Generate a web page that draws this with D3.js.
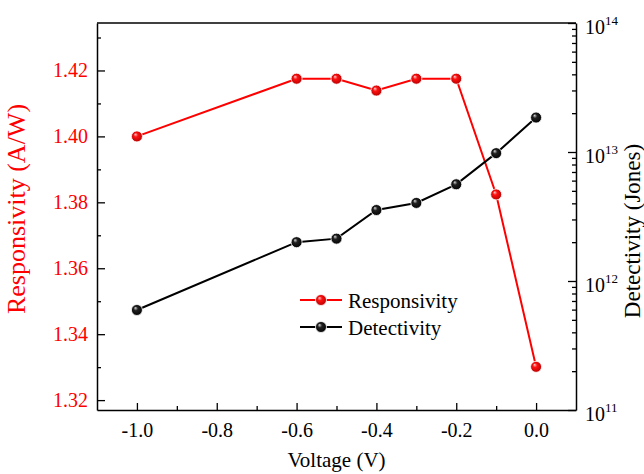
<!doctype html>
<html>
<head>
<meta charset="utf-8">
<title>Responsivity and Detectivity</title>
<script src="https://cdnjs.cloudflare.com/ajax/libs/d3/7.8.5/d3.min.js"></script>
<style>
  body { margin: 0; background: #fff; }
  svg text { font-family: "Liberation Serif", "Times New Roman", serif; }
</style>
</head>
<body>
<div id="chart"></div>
<script>
// data
const voltage = [-1.0, -0.6, -0.5, -0.4, -0.3, -0.2, -0.1, 0.0];
const responsivity = [1.400, 1.4175, 1.4175, 1.4139, 1.4175, 1.4175, 1.3824, 1.3301];
const detectivity = [5.96e11, 2.0e12, 2.13e12, 3.55e12, 4.03e12, 5.62e12, 9.8e12, 1.85e13];
const seriesNames = ["Responsivity", "Detectivity"];

// ticks
const xTicks = [-1.0, -0.8, -0.6, -0.4, -0.2, 0.0];
const xMinorTicks = [-0.9, -0.7, -0.5, -0.3, -0.1];
const leftTicks = [1.32, 1.34, 1.36, 1.38, 1.40, 1.42];
const leftMinorTicks = [1.33, 1.35, 1.37, 1.39, 1.41, 1.43];
const rightExponents = [11, 12, 13, 14];

const W = 644, H = 474;
const plotL = 97, plotR = 576, plotT = 23, plotB = 410;

const svg = d3.select('#chart')
  .append('svg')
  .attr('width', W)
  .attr('height', H);

const x = d3.scaleLinear().domain([-1.1, 0.1]).range([plotL, plotR]);
const yL = d3.scaleLinear().domain([1.317, 1.4344]).range([plotB, plotT]);
const yR = d3.scaleLog().domain([1e11, 1e14]).range([plotB, plotT]);

// sphere-looking markers
const defs = svg.append('defs');
function sphere(id, hi, mid, dark) {
  const g = defs.append('radialGradient')
    .attr('id', id)
    .attr('cx', '50%').attr('cy', '50%').attr('r', '55%')
    .attr('fx', '35%').attr('fy', '30%');
  g.append('stop').attr('offset', '0%').attr('stop-color', hi);
  g.append('stop').attr('offset', '35%').attr('stop-color', mid);
  g.append('stop').attr('offset', '100%').attr('stop-color', dark);
}
sphere('ballRed', '#ffd0d0', '#ff1010', '#b00000');
sphere('ballBlack', '#d8d8d8', '#202020', '#000');

// bottom axis
svg.append('g')
  .attr('transform', `translate(0,${plotB})`)
  .call(d3.axisBottom(x).tickValues(xTicks).tickSizeInner(-7).tickSizeOuter(0)
    .tickPadding(13).tickFormat(d => d.toFixed(1)));
svg.append('g')
  .attr('transform', `translate(0,${plotB})`)
  .call(d3.axisBottom(x).tickValues(xMinorTicks).tickSize(-4).tickFormat(''))
  .call(g => g.select('.domain').remove());

// left axis
const yAxisL = svg.append('g')
  .attr('transform', `translate(${plotL},0)`)
  .call(d3.axisLeft(yL).tickValues(leftTicks).tickSizeInner(-8).tickSizeOuter(0)
    .tickPadding(9).tickFormat(d3.format('.2f')));
yAxisL.selectAll('.tick text').attr('fill', '#ff0000');
svg.append('g')
  .attr('transform', `translate(${plotL},0)`)
  .call(d3.axisLeft(yL).tickValues(leftMinorTicks).tickSize(-4).tickFormat(''))
  .call(g => g.select('.domain').remove());

// right log axis
const yAxisR = svg.append('g')
  .attr('transform', `translate(${plotR},0)`)
  .call(d3.axisRight(yR).tickValues(rightExponents.map(e => Math.pow(10, e)))
    .tickSizeInner(-8).tickSizeOuter(0).tickPadding(9).tickFormat(''));
yAxisR.selectAll('.tick text')
  .attr('dy', '0.5em')
  .each(function(d) {
    const t = d3.select(this);
    t.append('tspan').text('10');
    t.append('tspan').attr('dy', -9).attr('font-size', 13).text(Math.round(Math.log10(d)));
  });
const minorR = yR.ticks().filter(v => Math.abs(Math.log10(v) - Math.round(Math.log10(v))) > 1e-6);
svg.append('g')
  .attr('transform', `translate(${plotR},0)`)
  .call(d3.axisRight(yR).tickValues(minorR).tickSize(-4).tickFormat(''))
  .call(g => g.select('.domain').remove());

// top frame line
svg.append('line')
  .attr('x1', plotL).attr('x2', plotR)
  .attr('y1', plotT).attr('y2', plotT)
  .attr('stroke', '#000').attr('stroke-width', 1.5);

svg.selectAll('.domain').attr('stroke-width', 1.5);
svg.selectAll('.tick line').attr('stroke-width', 1.3);
svg.selectAll('.tick text').attr('font-size', 20)
  .attr('font-family', '"Liberation Serif", "Times New Roman", serif');

// series
const lineR = d3.line().x((d, i) => x(voltage[i])).y(d => yL(d));
const lineD = d3.line().x((d, i) => x(voltage[i])).y(d => yR(d));

svg.append('path')
  .datum(responsivity)
  .attr('d', lineR)
  .attr('fill', 'none')
  .attr('stroke', '#ff0000')
  .attr('stroke-width', 2);

svg.append('path')
  .datum(detectivity)
  .attr('d', lineD)
  .attr('fill', 'none')
  .attr('stroke', '#000')
  .attr('stroke-width', 2);

svg.selectAll('.dotR')
  .data(responsivity)
  .join('circle')
  .attr('class', 'dotR')
  .attr('cx', (d, i) => x(voltage[i]))
  .attr('cy', d => yL(d))
  .attr('r', 5.5)
  .attr('fill', 'url(#ballRed)')
  .attr('stroke', '#fff')
  .attr('stroke-width', 0.8);

svg.selectAll('.dotD')
  .data(detectivity)
  .join('circle')
  .attr('class', 'dotD')
  .attr('cx', (d, i) => x(voltage[i]))
  .attr('cy', d => yR(d))
  .attr('r', 5.5)
  .attr('fill', 'url(#ballBlack)')
  .attr('stroke', '#fff')
  .attr('stroke-width', 0.8);

// legend
const legendColors = ['#ff0000', '#000'];
const legendFills = ['url(#ballRed)', 'url(#ballBlack)'];
const legend = svg.append('g').attr('transform', 'translate(300,300)');
const rows = legend.selectAll('g')
  .data(seriesNames)
  .join('g')
  .attr('transform', (d, i) => `translate(0,${i * 27})`);
rows.append('line')
  .attr('x1', 0).attr('x2', 42)
  .attr('stroke', (d, i) => legendColors[i])
  .attr('stroke-width', 2);
rows.append('circle')
  .attr('cx', 21).attr('r', 5.5)
  .attr('fill', (d, i) => legendFills[i])
  .attr('stroke', '#fff')
  .attr('stroke-width', 0.8);
rows.append('text')
  .attr('x', 48).attr('y', 7.5)
  .attr('font-size', 21)
  .text(d => d);

// axis titles
svg.append('text')
  .attr('transform', `translate(25,209) rotate(-90)`)
  .attr('text-anchor', 'middle')
  .attr('font-size', 26)
  .attr('fill', '#ff0000')
  .text('Responsivity (A/W)');

svg.append('text')
  .attr('x', (plotL + plotR) / 2)
  .attr('y', 467)
  .attr('text-anchor', 'middle')
  .attr('font-size', 21)
  .text('Voltage (V)');

svg.append('text')
  .attr('transform', `translate(640,231) rotate(-90)`)
  .attr('text-anchor', 'middle')
  .attr('font-size', 23)
  .text('Detectivity (Jones)');
</script>
</body>
</html>
